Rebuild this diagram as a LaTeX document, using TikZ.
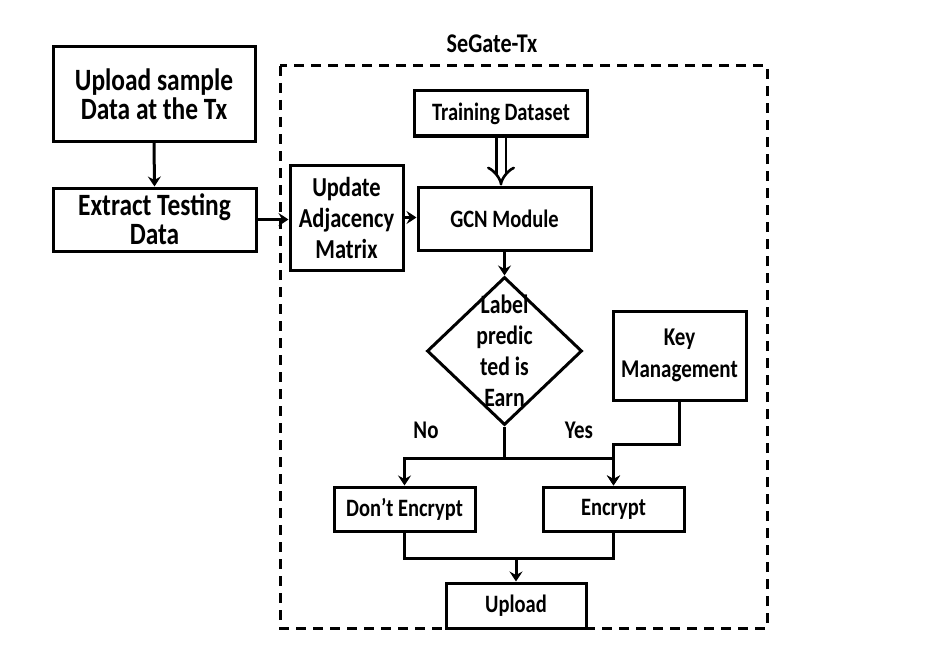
\documentclass[tikz,border=0pt]{standalone}
\usepackage{fontspec}
\setmainfont{Carlito}[FakeStretch=0.82]
\usetikzlibrary{arrows.meta,shapes.geometric,positioning}
\begin{document}
\begin{tikzpicture}[x=1pt,y=-1pt,
  box/.style={draw,line width=3pt,fill=white,align=center,inner sep=0pt,
    font=\fontsize{25}{31}\selectfont\bfseries},
  bigtext/.style={font=\fontsize{31}{29}\selectfont\bfseries},
  lbl/.style={font=\fontsize{25.5}{29}\selectfont\bfseries,inner sep=0pt},
  conn/.style={line width=3pt},
  arr/.style={conn,-{Stealth[length=10pt,width=13pt,inset=3.5pt]}},
  dbl/.style={double,double distance=7pt,line width=2.6pt,-{Implies[length=12pt,width=20pt]}},
  frame/.style={draw,line width=3pt,dash pattern=on 10pt off 7pt}
]
\useasboundingbox (0,0) rectangle (939,650);
\path[frame] (280,66) rectangle (767,628);
\node[lbl,font=\fontsize{27}{29}\selectfont\bfseries] (title) at (492,44) {SeGate-Tx};

\node[box,bigtext,minimum width=202pt,minimum height=94pt] (up) at (154,94) {Upload sample\\Data at the Tx};
\node[box,bigtext,minimum width=203pt,minimum height=63pt] (ext) at (154.5,219.5) {Extract Testing\\Data};
\node[box,font=\fontsize{27.4}{31}\selectfont\bfseries,minimum width=113pt,minimum height=105pt] (upd) at (346.5,217.5) {Update\\Adjacency\\Matrix};
\node[box,minimum width=173pt,minimum height=45pt] (train) at (501,113.5) {Training Dataset};
\node[box,minimum width=173pt,minimum height=63pt] (gcn) at (504.5,218.5) {GCN Module};
\node[diamond,draw,line width=3pt,minimum width=155pt,minimum height=148pt,inner sep=0pt] (dia) at (504.5,351) {};
\node[lbl,align=center,font=\fontsize{26.5}{31}\selectfont\bfseries] (diatext) at (504.5,351) {Label\\predic\\ted is\\Earn};
\node[box,font=\fontsize{25.6}{32}\selectfont\bfseries,minimum width=133pt,minimum height=89pt] (key) at (679.5,355.5) {Key\\Management};
\node[box,minimum width=141pt,minimum height=44pt] (dont) at (404.5,509) {Don’t Encrypt};
\node[box,minimum width=141pt,minimum height=44pt] (enc) at (613.5,509) {Encrypt};
\node[box,minimum width=140pt,minimum height=45pt] (upl) at (516,605.5) {Upload};
\node[lbl] (no) at (426,430) {No};
\node[lbl] (yes) at (579,430) {Yes};

\draw[arr] (up.south) -- (ext.north);
\draw[arr] (ext.east) -- (upd.west |- ext.east);
\draw[arr] (upd.east) -- (gcn.west |- upd.east);
\draw[dbl] (train.south) -- (train.south |- gcn.north);
\draw[arr] (gcn.south) -- (dia.north);
\draw[conn] (dia.south) -- ++(0,32) coordinate (br);
\draw[arr] (br) -| (dont.north);
\draw[arr] (br) -| (enc.north);
\draw[arr] (key.south) -- ++(0,43) -| (enc.north);
\draw[conn] (dont.south) -- ++(0,26) coordinate (mg) -| (enc.south);
\draw[arr] (upl.north |- mg) -- (upl.north);
\end{tikzpicture}
\end{document}
